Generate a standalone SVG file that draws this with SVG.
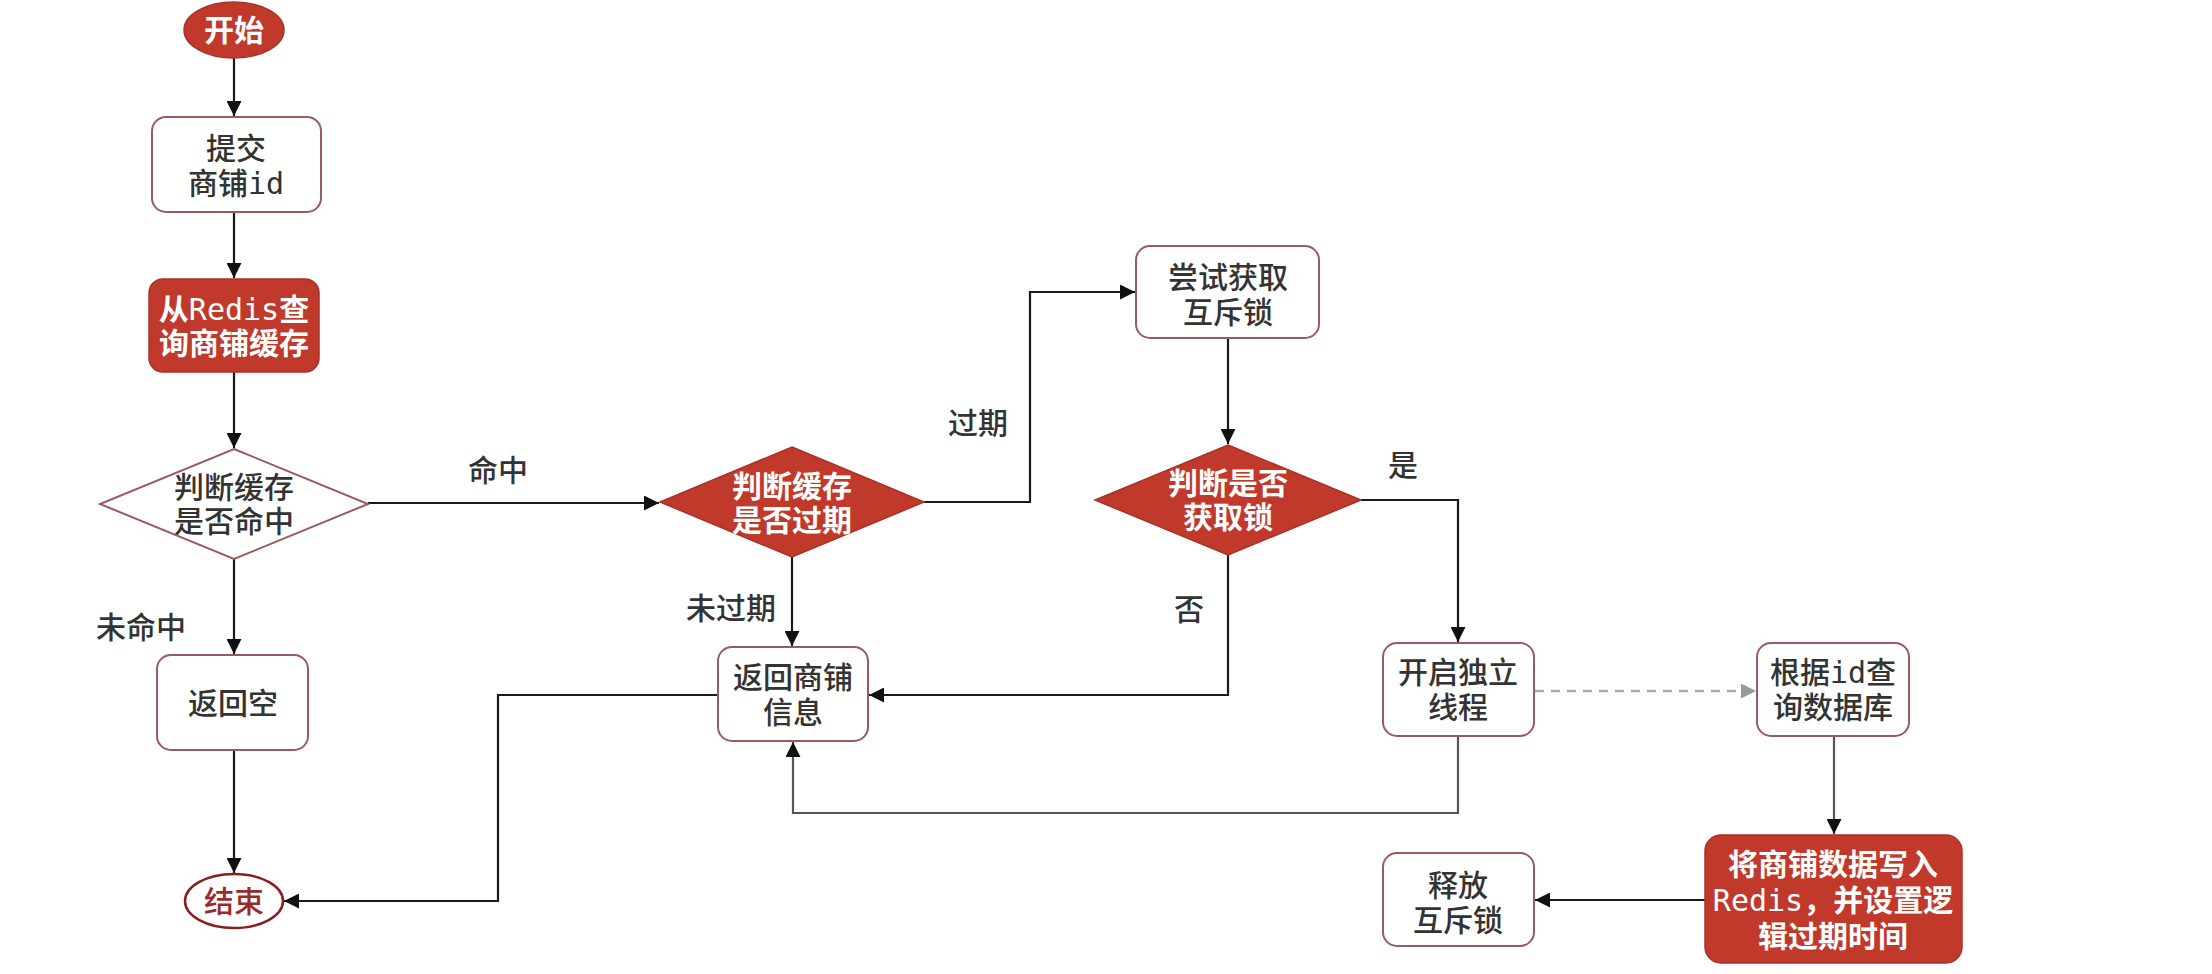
<svg xmlns="http://www.w3.org/2000/svg" width="2212" height="974" viewBox="0 0 2212 974">
<defs>
<style>
text{font-family:"DejaVu Sans Mono","Noto Sans CJK SC",monospace;font-size:30px;text-anchor:middle;dominant-baseline:central;font-weight:500}
.t{fill:#333}
.w{fill:#fff;font-weight:600}
.n{font-weight:normal}
.box{fill:#fff;stroke:#9a5a5e;stroke-width:2}
.red{fill:#c1392b;stroke:#a8322a;stroke-width:1.5}
.c{fill:none;stroke:#1a1a1a;stroke-width:2.2}
.g{fill:none;stroke:#555;stroke-width:2.2}
.d{fill:none;stroke:#aaa;stroke-width:2.5;stroke-dasharray:9 7}
</style>
<marker id="a" viewBox="0 0 10 10" refX="10" refY="5" markerWidth="15" markerHeight="15" markerUnits="userSpaceOnUse" orient="auto"><path d="M0,0L10,5L0,10z" fill="#111"/></marker>
<marker id="ag" viewBox="0 0 10 10" refX="10" refY="5" markerWidth="15" markerHeight="15" markerUnits="userSpaceOnUse" orient="auto"><path d="M0,0L10,5L0,10z" fill="#999"/></marker>
</defs>
<rect width="2212" height="974" fill="#fff"/>
<g id="connectors">
<path class="c" d="M234,58V116" marker-end="url(#a)"/>
<path class="c" d="M234,212V278" marker-end="url(#a)"/>
<path class="c" d="M234,372V448" marker-end="url(#a)"/>
<path class="c" d="M234,559V654" marker-end="url(#a)"/>
<path class="c" d="M234,750V873" marker-end="url(#a)"/>
<path class="c" d="M368,503H659" marker-end="url(#a)"/>
<path class="c" d="M924,502H1030V292H1135" marker-end="url(#a)"/>
<path class="c" d="M1228,338V444" marker-end="url(#a)"/>
<path class="c" d="M1361,500H1458V642" marker-end="url(#a)"/>
<path class="c" d="M1228,555V695H869" marker-end="url(#a)"/>
<path class="c" d="M792,557V646" marker-end="url(#a)"/>
<path class="c" d="M718,695H498V901H284" marker-end="url(#a)"/>
<path class="g" d="M1458,736V813H793V742" marker-end="url(#a)"/>
<path class="d" d="M1535,691H1756" marker-end="url(#ag)"/>
<path class="g" d="M1834,736V834" marker-end="url(#a)"/>
<path class="c" d="M1705,900H1535" marker-end="url(#a)"/>
<text class="t" x="498" y="470">命中</text>
<text class="t" x="141" y="627">未命中</text>
<text class="t" x="978" y="423">过期</text>
<text class="t" x="731" y="608">未过期</text>
<text class="t" x="1403" y="465">是</text>
<text class="t" x="1189" y="609">否</text>
</g>
<g id="start"><ellipse class="red" cx="234" cy="30" rx="50" ry="28"/><text class="w" x="234" y="30">开始</text></g>
<g id="submit"><rect class="box" x="152" y="117" width="169" height="95" rx="14"/><text class="t" x="236" y="148">提交</text><text class="t" x="236" y="183">商铺id</text></g>
<g id="query-redis"><rect class="red" x="149" y="279" width="170" height="93" rx="14"/><text class="w" x="234" y="309">从<tspan class="n">Redis</tspan>查</text><text class="w" x="234" y="343">询商铺缓存</text></g>
<g id="hit-check"><path class="box" d="M234,449L368,504L234,559L100,504Z" stroke-width="1.5"/><text class="t" x="234" y="487">判断缓存</text><text class="t" x="234" y="521">是否命中</text></g>
<g id="return-null"><rect class="box" x="157" y="655" width="151" height="95" rx="14"/><text class="t" x="233" y="703">返回空</text></g>
<g id="end"><ellipse cx="234" cy="901" rx="49" ry="27" fill="#fff" stroke="#8b1c1c" stroke-width="2.5"/><text x="234" y="901" fill="#9b2a2a">结束</text></g>
<g id="expire-check"><path class="red" d="M792,447L924,502L792,557L660,502Z"/><text class="w" x="792" y="486">判断缓存</text><text class="w" x="792" y="520">是否过期</text></g>
<g id="try-lock"><rect class="box" x="1136" y="246" width="183" height="92" rx="14"/><text class="t" x="1228" y="277">尝试获取</text><text class="t" x="1228" y="312">互斥锁</text></g>
<g id="lock-check"><path class="red" d="M1228,445L1361,500L1228,555L1095,500Z"/><text class="w" x="1228" y="483">判断是否</text><text class="w" x="1228" y="517">获取锁</text></g>
<g id="return-shop"><rect class="box" x="718" y="647" width="150" height="94" rx="14"/><text class="t" x="793" y="677">返回商铺</text><text class="t" x="793" y="712">信息</text></g>
<g id="new-thread"><rect class="box" x="1383" y="643" width="151" height="93" rx="14"/><text class="t" x="1458" y="672">开启独立</text><text class="t" x="1458" y="707">线程</text></g>
<g id="query-db"><rect class="box" x="1757" y="643" width="152" height="93" rx="14"/><text class="t" x="1833" y="672">根据id查</text><text class="t" x="1833" y="707">询数据库</text></g>
<g id="write-redis"><rect class="red" x="1705" y="835" width="257" height="128" rx="16"/><text class="w" x="1833" y="864">将商铺数据写入</text><text class="w" x="1833" y="900"><tspan class="n">Redis</tspan>，并设置逻</text><text class="w" x="1833" y="936">辑过期时间</text></g>
<g id="release-lock"><rect class="box" x="1383" y="853" width="151" height="93" rx="14"/><text class="t" x="1458" y="885">释放</text><text class="t" x="1458" y="920">互斥锁</text></g>
</svg>
